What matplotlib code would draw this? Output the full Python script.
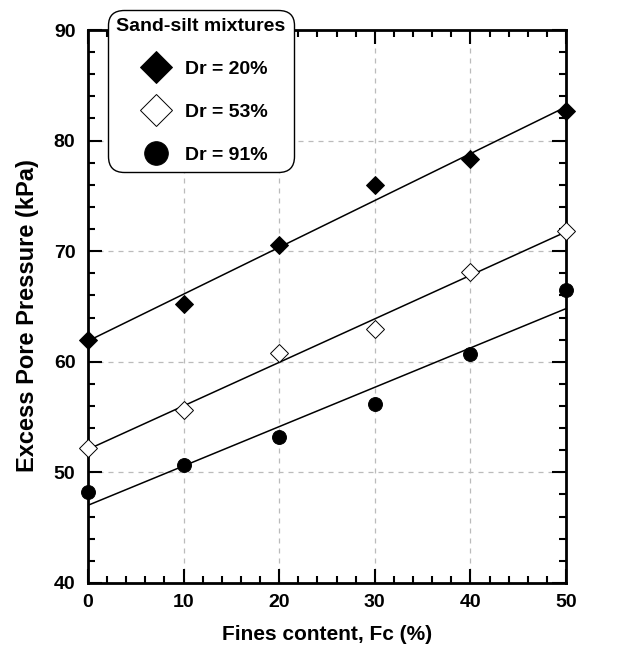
import numpy as np
import matplotlib.pyplot as plt
from matplotlib.ticker import MultipleLocator

plt.rcParams['font.family'] = ['Liberation Sans', 'DejaVu Sans']
plt.rcParams['font.weight'] = 'bold'

fines = [0, 10, 20, 30, 40, 50]
dr20 = [62.0, 65.2, 70.6, 76.0, 78.3, 82.7]
dr53 = [52.2, 55.6, 60.8, 63.0, 68.1, 71.8]
dr91 = [48.2, 50.7, 53.2, 56.2, 60.7, 66.5]

fig = plt.figure(figsize=(6.39, 6.51), dpi=100)
ax = fig.add_axes([0.1377, 0.1045, 0.7481, 0.8494])

series = [
    (dr20, 'D', 'black', 'Dr = 20%', 9.5),
    (dr53, 'D', 'white', 'Dr = 53%', 9.5),
    (dr91, 'o', 'black', 'Dr = 91%', 10),
]
x = np.array(fines)
xx = np.array([0, 50])
for y, m, fc, lab, ms in series:
    k, b = np.polyfit(x, y, 1)
    ax.plot(xx, k * xx + b, color='black', lw=1.1, zorder=3)
    ax.plot(x, y, ls='none', marker=m, mfc=fc, mec='black', mew=0.7,
            ms=ms, label=lab, zorder=4, clip_on=False)

ax.set_xlim(0, 50)
ax.set_ylim(40, 90)
ax.xaxis.set_major_locator(MultipleLocator(10))
ax.xaxis.set_minor_locator(MultipleLocator(2))
ax.yaxis.set_major_locator(MultipleLocator(10))
ax.yaxis.set_minor_locator(MultipleLocator(2))
ax.tick_params(which='both', direction='in', top=True, right=True,
               width=1.5, labelsize=14)
ax.tick_params(which='major', length=10)
ax.tick_params(which='minor', length=5)
ax.tick_params(axis='x', pad=8)
ax.tick_params(axis='y', pad=9)
for s in ax.spines.values():
    s.set_linewidth(2)
ax.grid(True, which='major', ls=(0, (4, 4)), color='#bbbbbb', lw=0.9)

ax.set_xlabel('Fines content, Fc (%)', fontsize=15, fontweight='bold', labelpad=10)
ax.set_ylabel('Excess Pore Pressure (kPa)', fontsize=17, fontweight='bold')
ax.yaxis.set_label_coords(-0.103, 0.483)

leg = ax.legend(title='Sand-silt mixtures', loc='upper left',
                bbox_to_anchor=(0.169, 0.985), bbox_transform=fig.transFigure,
                borderaxespad=0, fancybox=True, framealpha=1, edgecolor='black',
                prop={'size': 14, 'weight': 'bold'}, title_fontsize=14,
                labelspacing=1.3, markerscale=1.7, handletextpad=0.3,
                borderpad=0.42, handlelength=2.3, alignment='center')
leg.get_title().set_fontweight('bold')
leg.get_frame().set_linewidth(1.0)
leg.get_frame().set_boxstyle('round', pad=0, rounding_size=0.8)
leg.set_zorder(10)

fig.savefig('out.png', dpi=100)
